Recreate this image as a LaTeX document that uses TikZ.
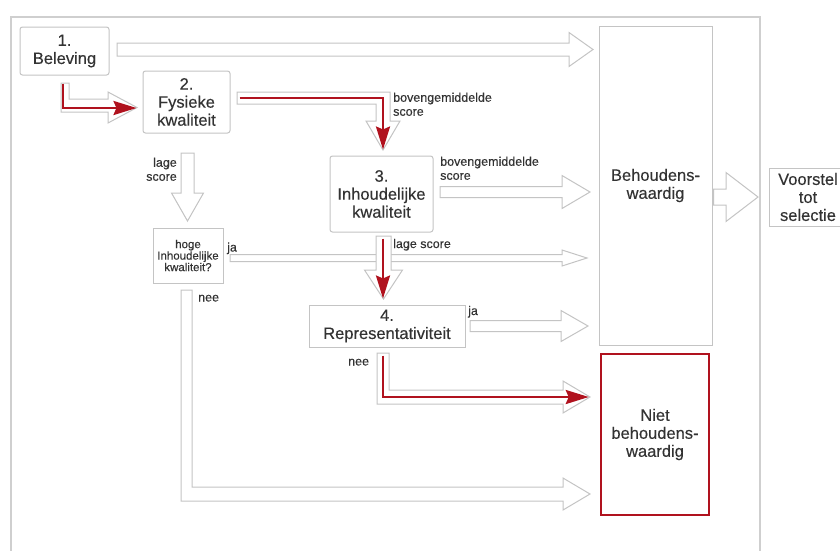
\documentclass[tikz,border=0pt]{standalone}
\usepackage{fontspec}
\setmainfont{Liberation Sans}[FakeBold=0.3]
\usetikzlibrary{arrows.meta}
\definecolor{boxgray}{HTML}{C4C4C4}
\definecolor{framegray}{HTML}{CFCFCF}
\definecolor{txt}{HTML}{333333}
\definecolor{darkred}{HTML}{B0121E}
\tikzset{
  box/.style={draw=boxgray, line width=1pt, fill=white, rounded corners=2.5pt, inner sep=0pt,
    align=center, text=txt, font=\fontsize{16.5}{18}\selectfont},
  lbl/.style={text=txt, font=\fontsize{12.5}{14}\selectfont, inner sep=0pt},
  hollow/.style={draw=boxgray, line width=1pt, fill=white, line join=miter},
  redarrow/.style={draw=darkred, line width=2.5pt, -{Stealth[length=23pt,width=14pt,inset=3pt]}},
}
\newcommand\hollowH[6]{\draw[hollow] ({#1},{#3-#4}) -- ({#2-#6},{#3-#4}) -- ({#2-#6},{#3-#5}) -- ({#2},{#3}) -- ({#2-#6},{#3+#5}) -- ({#2-#6},{#3+#4}) -- ({#1},{#3+#4}) -- cycle;}
\newcommand\hollowV[6]{\draw[hollow] ({#1-#4},{#2}) -- ({#1-#4},{#3-#6}) -- ({#1-#5},{#3-#6}) -- ({#1},{#3}) -- ({#1+#5},{#3-#6}) -- ({#1+#4},{#3-#6}) -- ({#1+#4},{#2}) -- cycle;}
\begin{document}
\begin{tikzpicture}[x=1pt,y=-1pt]
\useasboundingbox (0,0) rectangle (840,550);
\fill[white] (0,0) rectangle (840,550);
\draw[draw=framegray, line width=1.5pt] (11,17) rectangle (760,600);

% nodes
\node[box, minimum width=89pt, minimum height=48pt] (n1) at (64.5,51) {1.\\Beleving};
\node[box, minimum width=87pt, minimum height=62pt] (n2) at (186.5,102) {2.\\Fysieke\\kwaliteit};
\node[box, minimum width=103pt, minimum height=76pt] (n3) at (381.5,194) {3.\\Inhoudelijke\\kwaliteit};
\node[box, rounded corners=0pt, minimum width=70pt, minimum height=55pt, font=\fontsize{11.5}{11.5}\selectfont] (nq) at (188,255.5) {hoge\\Inhoudelijke\\kwaliteit?};
\node[box, rounded corners=0pt, minimum width=156pt, minimum height=42pt] (n4) at (387,326) {4.\\Representativiteit};
\node[box, rounded corners=0pt, minimum width=113pt, minimum height=319pt] (nb) at (655.5,185.5) {Behoudens-\\waardig};
\node[box, rounded corners=0pt, draw=darkred, line width=2.5pt, minimum width=108pt, minimum height=161pt] (nn) at (655,434.5) {Niet\\behoudens-\\waardig};
\node[box, rounded corners=0pt, minimum width=78pt, minimum height=58pt] (nv) at (808,197) {Voorstel\\tot\\selectie};

% hollow block arrows
\hollowH{117}{593}{49.5}{6.5}{17}{24}
\draw[hollow] (61,83) -- (69,83) -- (69,99) -- (108,99) -- (108,92) -- (137,107.5) -- (108,123) -- (108,112) -- (61,112) -- cycle;
\draw[hollow] (237,92) -- (390,92) -- (390,121) -- (400,121) -- (383,150) -- (366,121) -- (376,121) -- (376,104) -- (237,104) -- cycle;
\hollowV{187.5}{153}{221}{6.5}{16}{28}
\hollowH{440}{590}{192}{5.5}{16.5}{28}
\hollowH{230}{587}{258}{3.5}{8}{25}
\hollowV{383.5}{236}{299}{7.5}{19}{29}
\hollowH{470}{588}{326}{5.5}{15.5}{27}
\draw[hollow] (377,353) -- (389,353) -- (389,390) -- (563,390) -- (563,381) -- (590,397) -- (563,413) -- (563,404) -- (377,404) -- cycle;
\draw[hollow] (181,290) -- (192,290) -- (192,487) -- (563,487) -- (563,478) -- (590,494) -- (563,510) -- (563,501) -- (181,501) -- cycle;
\hollowH{713.5}{758}{197}{8}{24.5}{32}

% red arrows
\draw[redarrow] ([xshift=-1.5pt,yshift=-8pt]n1.south) |- ([xshift=-6pt,yshift=-6pt]n2.west);
\draw[redarrow] ([xshift=9pt,yshift=4pt]n2.east) -| ([xshift=1.5pt,yshift=6pt]n3.north);
\draw[redarrow] ([xshift=1.5pt,yshift=-6pt]n3.south) -- ([xshift=-4pt,yshift=6pt]n4.north);
\draw[redarrow] ([xshift=-4pt,yshift=-8pt]n4.south) |- ([xshift=-11pt,yshift=37.5pt]nn.west);

% labels
\node[lbl, anchor=north west, align=left] (l1) at (393,92.5) {bovengemiddelde\\score};
\node[lbl, anchor=north east, align=right] (l2) at (177,157.5) {lage\\score};
\node[lbl, anchor=north west, align=left] (l3) at (440,156.5) {bovengemiddelde\\score};
\node[lbl, anchor=base west] (l4) at (227,251.5) {ja};
\node[lbl, anchor=base west] (l5) at (393,248) {lage score};
\node[lbl, anchor=base west] (l6) at (198,301.5) {nee};
\node[lbl, anchor=base west] (l7) at (468,315) {ja};
\node[lbl, anchor=base west] (l8) at (348,365.5) {nee};
\end{tikzpicture}
\end{document}
